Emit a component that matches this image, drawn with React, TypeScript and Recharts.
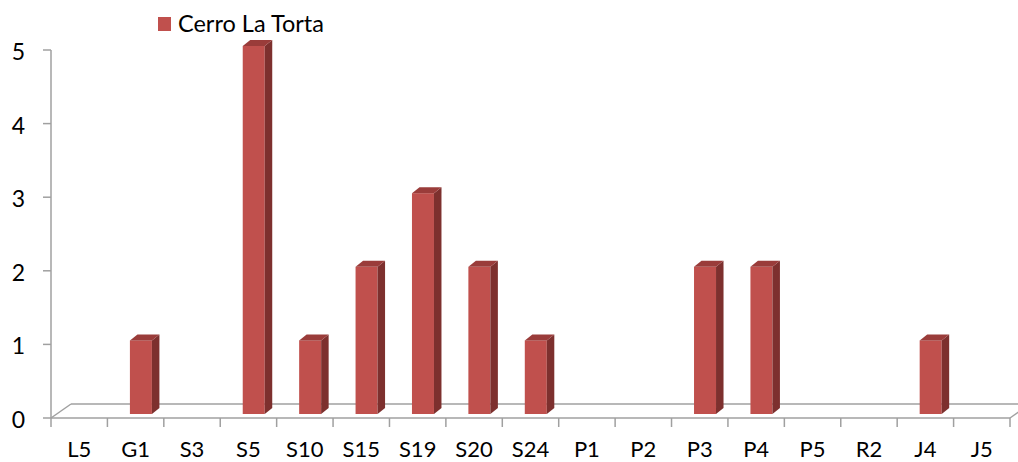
import React from 'react';
import { BarChart, Bar, XAxis, YAxis } from 'recharts';

const categories = ['L5', 'G1', 'S3', 'S5', 'S10', 'S15', 'S19', 'S20', 'S24', 'P1', 'P2', 'P3', 'P4', 'P5', 'R2', 'J4', 'J5'];
const cerroLaTorta = [0, 1, 0, 5, 1, 2, 3, 2, 1, 0, 0, 2, 2, 0, 0, 1, 0];
const yTicks = [0, 1, 2, 3, 4, 5];
const seriesName = 'Cerro La Torta';

const data = categories.map((c, i) => ({ name: c, value: cerroLaTorta[i] }));

const W = 1018;
const H = 462;
const LEFT = 51;
const RIGHT = 1010;
const TOP = 50;
const BOTTOM = 418;
const BAND = (RIGHT - LEFT) / categories.length;
const FONT = 'Lato, "DejaVu Sans", sans-serif';
const GRAY = '#A0A0A0';
const FRONT = '#C0504D';
const SIDE = '#7D302E';
const TOPC = '#9A3C3A';
const TEXT = '#000';

const Bar3D = (props: any) => {
  const { x, y, width, height } = props;
  if (!height || height <= 0) return null;
  const fx = x + 5.5;
  const fy = y - 4;
  const w = width;
  const h = height;
  const dx = 7.5;
  const dy = -6;
  return (
    <g>
      <rect x={fx} y={fy} width={w} height={h} fill={FRONT} />
      <polygon
        points={`${fx + w},${fy} ${fx + w + dx},${fy + dy} ${fx + w + dx},${fy + h + dy} ${fx + w},${fy + h}`}
        fill={SIDE}
      />
      <polygon
        points={`${fx},${fy} ${fx + dx},${fy + dy} ${fx + w + dx},${fy + dy} ${fx + w},${fy}`}
        fill={TOPC}
      />
    </g>
  );
};

const XTick = (props: any) => {
  const { x, payload, index } = props;
  const left = x - BAND / 2;
  return (
    <g>
      <line x1={left} y1={BOTTOM} x2={left} y2={BOTTOM + 9} stroke={GRAY} strokeWidth={1.5} />
      {index === categories.length - 1 && (
        <line x1={x + BAND / 2} y1={BOTTOM} x2={x + BAND / 2} y2={BOTTOM + 9} stroke={GRAY} strokeWidth={1.5} />
      )}
      <text x={x} y={457} textAnchor="middle" fontFamily={FONT} fontSize={22} fill={TEXT}>
        {payload.value}
      </text>
    </g>
  );
};

const YTick = (props: any) => {
  const { y, payload } = props;
  return (
    <g>
      <line x1={LEFT - 8} y1={y} x2={LEFT} y2={y} stroke={GRAY} strokeWidth={1.5} />
      <text x={25} y={y + 10} textAnchor="end" fontFamily={FONT} fontSize={23} fill={TEXT}>
        {payload.value}
      </text>
    </g>
  );
};

export default function App() {
  return (
    <div style={{ position: 'absolute', left: 0, top: 0, width: W, height: H, background: '#fff' }}>
      <svg width={W} height={H} style={{ position: 'absolute', left: 0, top: 0 }}>
        <line x1={LEFT + 20} y1={BOTTOM - 14} x2={W} y2={BOTTOM - 14} stroke={GRAY} strokeWidth={1.5} />
        <line x1={LEFT} y1={BOTTOM} x2={LEFT + 20} y2={BOTTOM - 14} stroke={GRAY} strokeWidth={1.5} />
        <line x1={RIGHT} y1={BOTTOM} x2={RIGHT + 20} y2={BOTTOM - 14} stroke={GRAY} strokeWidth={1.5} />
        <line x1={LEFT} y1={TOP} x2={LEFT} y2={BOTTOM} stroke={GRAY} strokeWidth={1.5} />
        <rect x={158} y={17} width={13} height={14} fill={FRONT} />
        <text x={178} y={32} fontFamily={FONT} fontSize={23.5} fill={TEXT}>
          {seriesName}
        </text>
      </svg>
      <div style={{ position: 'absolute', left: 0, top: 0 }}>
        <BarChart
          width={W}
          height={H}
          data={data}
          margin={{ top: TOP, right: W - RIGHT, left: 0, bottom: 0 }}
          barCategoryGap={0}
        >
          <XAxis
            dataKey="name"
            interval={0}
            tickLine={false}
            axisLine={{ stroke: GRAY, strokeWidth: 1.5 }}
            tick={<XTick />}
            height={H - BOTTOM}
          />
          <YAxis
            domain={[0, 5]}
            ticks={yTicks}
            width={LEFT}
            tickLine={false}
            axisLine={false}
            tick={<YTick />}
            allowDecimals={false}
          />
          <Bar dataKey="value" name={seriesName} barSize={22} shape={<Bar3D />} isAnimationActive={false} />
        </BarChart>
      </div>
    </div>
  );
}
